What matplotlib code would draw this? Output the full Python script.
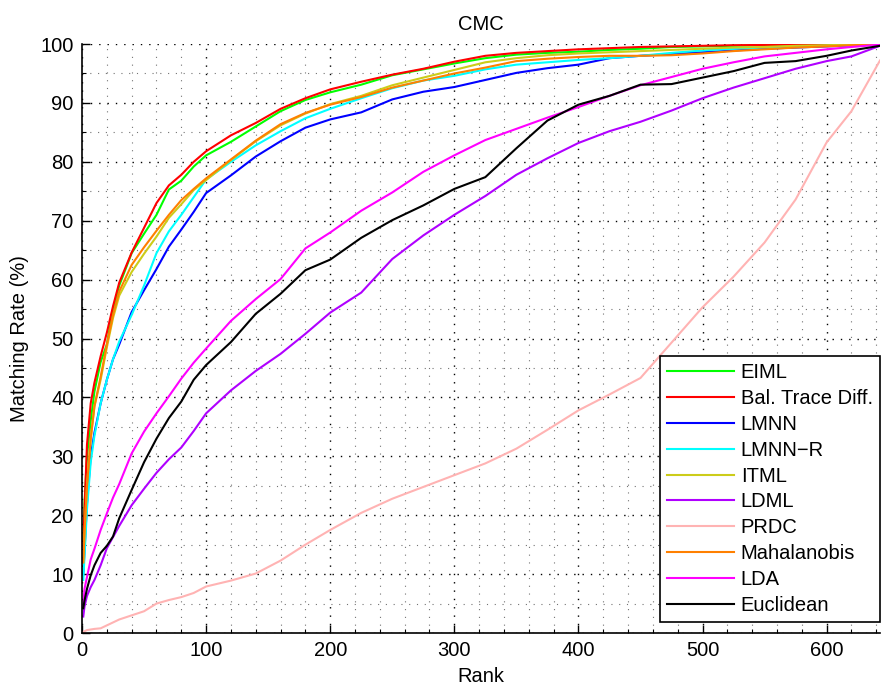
import matplotlib
matplotlib.use("Agg")
import matplotlib.pyplot as plt
from matplotlib.ticker import MultipleLocator

plt.rcParams['font.family'] = ['Liberation Sans', 'DejaVu Sans']

ranks = [1, 2, 4, 7, 10, 15, 20, 25, 30, 40, 50, 60, 70, 80, 90, 100, 120, 140, 160, 180,
         200, 225, 250, 275, 300, 325, 350, 375, 400, 425, 450, 475, 500, 525, 550, 575, 600, 620, 643]

eiml = [16, 22, 30, 36, 41, 46, 49, 55, 59, 64.5, 67.8, 71, 75.3, 76.8, 79.2, 81.1, 83.4, 86, 88.6, 90.5,
        91.8, 93.1, 94.7, 95.7, 96.7, 97.6, 98.2, 98.5, 98.7, 99.0, 99.2, 99.5, 99.6, 99.7, 99.8, 99.85, 99.9, 99.95, 100]
btd = [14.5, 21, 32, 39, 42.5, 47, 51, 55.5, 59.5, 64.6, 68.8, 73, 76.0, 77.8, 80, 81.8, 84.5, 86.6, 89, 90.8,
       92.3, 93.6, 94.8, 95.8, 97.0, 98.0, 98.5, 98.8, 99.1, 99.3, 99.5, 99.6, 99.7, 99.8, 99.85, 99.9, 99.95, 100, 100]
lmnn = [10, 14, 22, 30, 34, 39, 43, 46.5, 49, 54.5, 58.2, 61.8, 65.6, 68.5, 71.5, 74.7, 77.7, 80.9, 83.5, 85.8,
        87.2, 88.4, 90.6, 91.9, 92.7, 93.9, 95.1, 95.9, 96.5, 97.6, 98.0, 98.3, 98.6, 98.9, 99.2, 99.4, 99.6, 99.75, 99.9]
lmnnr = [9, 13, 21, 29, 33.5, 39, 43, 46.5, 49.5, 54, 59, 64.5, 68.2, 71, 74.0, 77.0, 80, 82.8, 85.2, 87.4,
         89, 90.8, 92.5, 93.8, 94.6, 95.7, 96.5, 96.9, 97.3, 97.6, 98.0, 98.5, 98.9, 99.2, 99.4, 99.6, 99.7, 99.8, 99.95]
itml = [12, 17, 25, 33, 38.5, 43, 48.5, 53.5, 57.3, 61.3, 64.4, 67.3, 70.5, 72.8, 75.2, 76.9, 80.3, 83.5, 86.2, 88.2,
        89.8, 91.2, 93, 94.3, 95.6, 96.9, 97.6, 98.1, 98.4, 98.6, 98.8, 99.0, 99.2, 99.4, 99.5, 99.7, 99.8, 99.9, 100]
ldml = [2.8, 4.5, 6.3, 7.8, 9, 11.5, 14.4, 16.3, 18.2, 21.7, 24.5, 27.2, 29.5, 31.5, 34.3, 37.3, 41.2, 44.5, 47.4, 50.8,
        54.4, 57.8, 63.5, 67.5, 71.0, 74.2, 77.8, 80.6, 83.2, 85.2, 86.8, 88.7, 90.8, 92.6, 94.2, 95.8, 97.1, 97.9, 99.7]
prdc = [0.2, 0.3, 0.5, 0.6, 0.7, 0.8, 1.3, 1.8, 2.3, 3.0, 3.7, 5.0, 5.6, 6.1, 6.8, 7.9, 8.9, 10.1, 12.3, 15.0,
        17.5, 20.4, 22.8, 24.8, 26.8, 28.8, 31.3, 34.5, 37.8, 40.5, 43.3, 49.3, 55.3, 60.5, 66.3, 73.6, 83.3, 88.6, 97.2]
maha = [12, 17, 25, 33, 38.5, 43.5, 49, 54, 58, 62.5, 65.5, 68.3, 71, 73.5, 75.4, 77.2, 80.4, 83.6, 86.4, 88.3,
        89.7, 91, 92.6, 93.8, 95.0, 96.0, 97.1, 97.5, 97.8, 98.0, 98.0, 98.1, 98.4, 98.8, 99.1, 99.4, 99.6, 99.8, 100]
lda = [4.5, 7.5, 9.5, 12.5, 14.3, 17.5, 20.3, 23, 25.3, 30.5, 34.2, 37.3, 40.2, 43.2, 45.9, 48.3, 53, 56.7, 60.1, 65.3,
       68, 71.7, 74.8, 78.3, 81.1, 83.7, 85.6, 87.5, 89.3, 91.2, 93.0, 94.4, 95.8, 96.9, 97.9, 98.5, 99.1, 99.5, 99.9]
eucl = [4.2, 5.5, 7.5, 9.8, 11.5, 13.6, 14.8, 16.4, 19.5, 24.3, 29, 33, 36.5, 39.3, 43, 45.5, 49.4, 54.2, 57.6, 61.6,
        63.4, 67.1, 70.1, 72.6, 75.4, 77.4, 82.3, 87, 89.7, 91.2, 93.1, 93.2, 94.3, 95.4, 96.8, 97.1, 98, 98.9, 99.7]

names = ["EIML", "Bal. Trace Diff.", "LMNN", "LMNN\u2212R", "ITML", "LDML", "PRDC", "Mahalanobis", "LDA", "Euclidean"]
series = [eiml, btd, lmnn, lmnnr, itml, ldml, prdc, maha, lda, eucl]
colors = ["#00ff00", "#ff0000", "#0000ff", "#00ffff", "#cccc1a", "#b000ff", "#ffb3b3", "#ff8000", "#ff00ff", "#000000"]

fig = plt.figure(figsize=(8.82, 6.88), dpi=100)
ax = fig.add_axes([0.093, 0.0799, 0.9047, 0.8561])

for vals, name, c in zip(series, names, colors):
    ax.plot(ranks, vals, color=c, lw=1.5, label=name)

ax.set_xlim(0, 643)
ax.set_ylim(0, 100)
ax.xaxis.set_major_locator(MultipleLocator(100))
ax.xaxis.set_minor_locator(MultipleLocator(20))
ax.yaxis.set_major_locator(MultipleLocator(10))
ax.yaxis.set_minor_locator(MultipleLocator(5))

# matlab style dotted grid, no box
ax.grid(which='major', color='black', linestyle=(0, (1, 5)), linewidth=1.0)
ax.grid(which='minor', color='0.45', linestyle=(0, (1, 6)), linewidth=0.8)
ax.set_axisbelow(True)
ax.spines['top'].set_visible(False)
ax.spines['right'].set_visible(False)
ax.spines['left'].set_linewidth(1.2)
ax.spines['bottom'].set_linewidth(1.2)
ax.tick_params(which='major', direction='in', length=6, width=1, labelsize=14.5, pad=6)
ax.tick_params(which='minor', direction='in', length=3, width=0.8)

ax.set_title("CMC", fontsize=14.5, pad=10)
ax.set_xlabel("Rank", fontsize=14.5, labelpad=5)
ax.set_ylabel("Matching Rate (%)", fontsize=14.5, labelpad=8)

leg = ax.legend(loc='lower right', bbox_to_anchor=(1.0, 0.019), borderaxespad=0, fontsize=14.5,
                handlelength=3.3, handletextpad=0.35, labelspacing=0.34, borderpad=0.35,
                fancybox=False, framealpha=1, edgecolor='black')
leg.get_frame().set_linewidth(1.2)

fig.savefig("out.png", dpi=100)
